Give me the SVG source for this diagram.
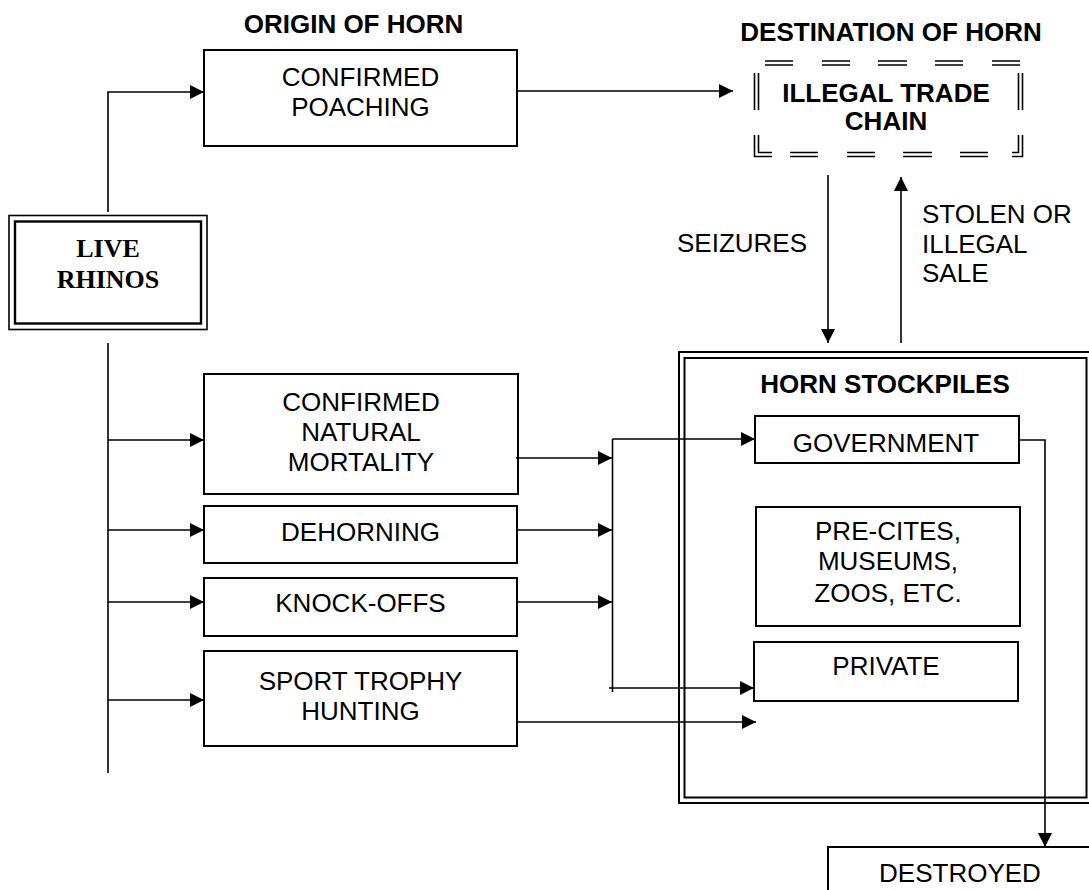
<svg xmlns="http://www.w3.org/2000/svg" width="1089" height="890" viewBox="0 0 1089 890">
<style>
text{font-family:"Liberation Sans",Arial,sans-serif;font-size:26px;fill:#000;text-anchor:middle}
.b{font-weight:bold}
.serif{font-family:"Liberation Serif","Times New Roman",serif;font-weight:bold}
.box{fill:#fff;stroke:#000;stroke-width:2}
.ln{fill:none;stroke:#000;stroke-width:1.6}
.dl{fill:none;stroke:#000;stroke-width:1.6}
</style>
<defs>
<marker id="arr" markerWidth="14" markerHeight="14" viewBox="0 0 14 14" refX="14" refY="7" orient="auto" markerUnits="userSpaceOnUse"><path d="M0,0 L14,7 L0,14 z" fill="#000"/></marker>
</defs>
<rect width="1089" height="890" fill="#fff"/>

<g id="titles">
<text class="b" x="353.5" y="33">ORIGIN OF HORN</text>
<text class="b" x="891" y="41">DESTINATION OF HORN</text>
</g>

<g id="stockpiles">
<rect x="679" y="352" width="414" height="451" fill="#fff" stroke="#000" stroke-width="2"/>
<rect x="684.5" y="358" width="402" height="439.5" fill="none" stroke="#000" stroke-width="2"/>
<text class="b" x="885" y="393">HORN STOCKPILES</text>
</g>

<g id="live-rhinos">
<rect x="9" y="215.5" width="198" height="114" fill="#fff" stroke="#000" stroke-width="1.6"/>
<rect x="15" y="221.5" width="186" height="102" fill="none" stroke="#000" stroke-width="2.4"/>
<text class="serif" x="108" y="257">LIVE</text>
<text class="serif" x="108" y="288">RHINOS</text>
</g>

<g id="poaching">
<rect class="box" x="204" y="50" width="313" height="96"/>
<text x="360.5" y="86">CONFIRMED</text>
<text x="360.5" y="116">POACHING</text>
</g>

<g id="illegal-trade">
<path class="dl" d="M765,61H793M822,61H850M878,61H907M935,61H963M992,61H1020M765,65H793M822,65H850M878,65H907M935,65H963M992,65H1020"/>
<path class="dl" d="M754.5,73V110M758.5,73V110M1018.5,73V110M1022.5,73V110"/>
<path class="dl" d="M754.5,135V156.5H772M758.5,135V152.5H772"/>
<path class="dl" d="M1022.5,135V156.5H1012M1018.5,135V152.5H1012"/>
<path class="dl" d="M790,152.5H818M847,152.5H875M903,152.5H932M960,152.5H988M790,156.5H818M847,156.5H875M903,156.5H932M960,156.5H988"/>
<text class="b" x="886" y="102">ILLEGAL TRADE</text>
<text class="b" x="886" y="130">CHAIN</text>
</g>

<g id="mortality">
<rect class="box" x="204" y="374" width="314" height="120"/>
<text x="361" y="411">CONFIRMED</text>
<text x="361" y="441">NATURAL</text>
<text x="361" y="471">MORTALITY</text>
</g>

<g id="dehorning">
<rect class="box" x="204" y="506" width="313" height="57"/>
<text x="360.5" y="541">DEHORNING</text>
</g>

<g id="knockoffs">
<rect class="box" x="204" y="578" width="313" height="58"/>
<text x="360.5" y="612">KNOCK-OFFS</text>
</g>

<g id="sport">
<rect class="box" x="204" y="651" width="313" height="95"/>
<text x="360.5" y="690">SPORT TROPHY</text>
<text x="360.5" y="720">HUNTING</text>
</g>

<g id="government">
<rect class="box" x="755" y="416" width="264" height="47"/>
<text x="886" y="452">GOVERNMENT</text>
</g>

<g id="precites">
<rect class="box" x="756" y="507" width="264" height="119"/>
<text x="888" y="540">PRE-CITES,</text>
<text x="888" y="570">MUSEUMS,</text>
<text x="888" y="602">ZOOS, ETC.</text>
</g>

<g id="private">
<rect class="box" x="754" y="642" width="264" height="59"/>
<text x="886" y="675">PRIVATE</text>
</g>

<g id="destroyed">
<rect class="box" x="828" y="847" width="264" height="60"/>
<text x="960" y="882">DESTROYED</text>
</g>

<g id="labels">
<text x="742" y="252">SEIZURES</text>
<text x="922" y="223" style="text-anchor:start">STOLEN OR</text>
<text x="922" y="253" style="text-anchor:start">ILLEGAL</text>
<text x="922" y="282" style="text-anchor:start">SALE</text>
</g>

<g id="connectors">
<path class="ln" d="M108,212V92H204" marker-end="url(#arr)"/>
<path class="ln" d="M108,343V773"/>
<path class="ln" d="M108,440H204" marker-end="url(#arr)"/>
<path class="ln" d="M108,530H204" marker-end="url(#arr)"/>
<path class="ln" d="M108,602H204" marker-end="url(#arr)"/>
<path class="ln" d="M108,700H204" marker-end="url(#arr)"/>
<path class="ln" d="M517,91H733" marker-end="url(#arr)"/>
<path class="ln" d="M516,458H612" marker-end="url(#arr)"/>
<path class="ln" d="M517,530H612" marker-end="url(#arr)"/>
<path class="ln" d="M517,602H612" marker-end="url(#arr)"/>
<path class="ln" d="M612.5,439V692"/>
<path class="ln" d="M612.5,439H755" marker-end="url(#arr)"/>
<path class="ln" d="M609,688H754" marker-end="url(#arr)"/>
<path class="ln" d="M517,722H756" marker-end="url(#arr)"/>
<path class="ln" d="M828,175V343" marker-end="url(#arr)"/>
<path class="ln" d="M901,343V177" marker-end="url(#arr)"/>
<path class="ln" d="M1019,440H1045V847" marker-end="url(#arr)"/>
</g>
</svg>
